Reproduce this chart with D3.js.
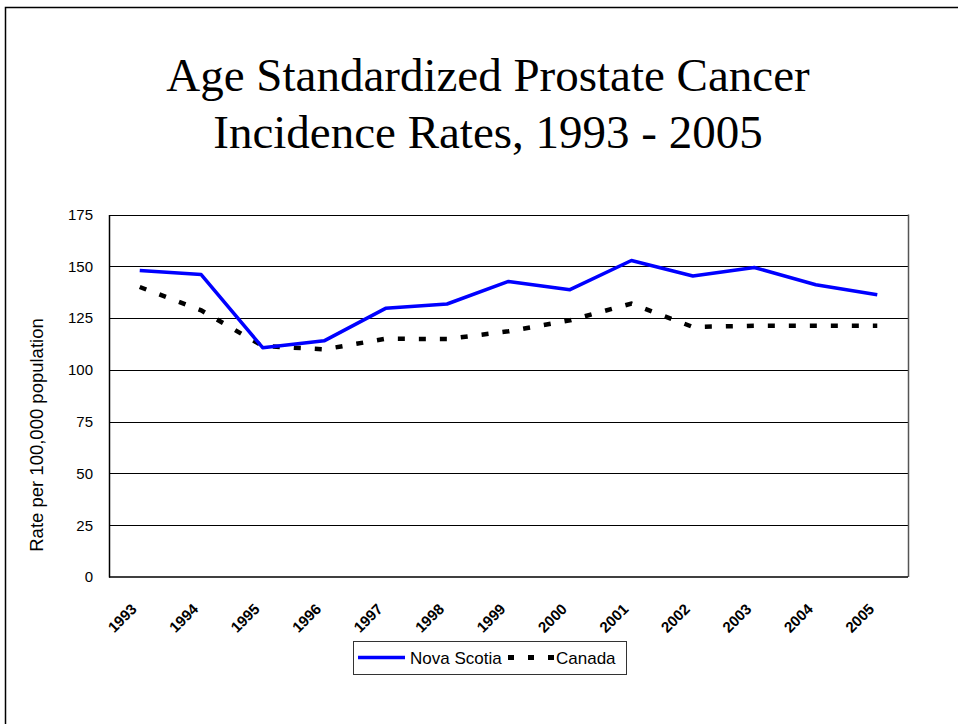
<!DOCTYPE html>
<html>
<head>
<meta charset="utf-8">
<script src="https://cdn.jsdelivr.net/npm/d3@7"></script>
<style>
  body { margin: 0; background: #fff; }
  svg text { font-family: Arial, "Liberation Sans", sans-serif; }
</style>
</head>
<body>
<svg id="chart" width="958" height="724"></svg>
<script>
// chart data
var years = ["1993", "1994", "1995", "1996", "1997", "1998", "1999", "2000", "2001", "2002", "2003", "2004", "2005"];
var novaScotia = [148, 146, 110.7, 114, 129.7, 131.8, 142.7, 138.7, 152.8, 145.3, 149.4, 141.1, 136.3];
var canada = [140, 128.7, 111.5, 109.9, 115, 114.9, 118.6, 123.9, 132, 120.7, 121.3, 121.3, 121.3];
var yTicks = [0, 25, 50, 75, 100, 125, 150, 175];
var titleLines = ["Age Standardized Prostate Cancer", "Incidence Rates, 1993 - 2005"];

var svg = d3.select("#chart");

// slide frame (only top and left edges fall inside the window)
svg.append("rect")
    .attr("x", 5.5).attr("y", 7.5)
    .attr("width", 1000).attr("height", 1000)
    .style("fill", "none")
    .style("stroke", "#000")
    .style("stroke-width", 1.5);

// title
svg.append("g").selectAll("text")
    .data(titleLines)
    .enter()
    .append("text")
    .attr("x", 488)
    .attr("y", function (d, i) { return 91 + i * 57; })
    .attr("text-anchor", "middle")
    .style("font-family", "'Liberation Serif', 'Times New Roman', serif")
    .style("font-size", "47px")
    .text(function (d) { return d; });

// plot area bounds
var plotLeft = 109, plotRight = 908, plotTop = 214.5, plotBottom = 577;

var x = d3.scalePoint().domain(years).range([plotLeft, plotRight]).padding(0.5);
var y = d3.scaleLinear().domain([0, 175]).range([plotBottom, plotTop]);

var g = svg.append("g");

// gridlines
g.selectAll("line.grid")
    .data(yTicks.filter(function (d) { return d > 0; }))
    .enter()
    .append("line")
    .attr("class", "grid")
    .attr("x1", plotLeft).attr("x2", plotRight)
    .attr("y1", function (d) { return Math.round(y(d)) + 0.5; })
    .attr("y2", function (d) { return Math.round(y(d)) + 0.5; })
    .style("stroke", "#000")
    .style("stroke-width", 1);

// right border of plot
g.append("line")
    .attr("x1", plotRight + 0.5).attr("x2", plotRight + 0.5)
    .attr("y1", y(175)).attr("y2", plotBottom)
    .style("stroke", "#555")
    .style("stroke-width", 1.5);

// y axis
var yAxis = d3.axisLeft(y).tickValues(yTicks).tickSize(0).tickPadding(16);
g.append("g")
    .attr("transform", "translate(" + plotLeft + ",0)")
    .call(yAxis)
    .call(function (s) {
        s.select(".domain").style("stroke", "#000").style("stroke-width", 1.5);
        s.selectAll("text")
            .style("font-family", "Arial, 'Liberation Sans', sans-serif")
            .style("font-size", "15px")
            .style("fill", "#000");
    });

// x axis line
g.append("line")
    .attr("x1", plotLeft).attr("x2", plotRight)
    .attr("y1", plotBottom).attr("y2", plotBottom)
    .style("stroke", "#000")
    .style("stroke-width", 1.5);

// x tick labels, rotated
g.selectAll("text.xlab")
    .data(years)
    .enter()
    .append("text")
    .attr("class", "xlab")
    .attr("transform", function (d) { return "translate(" + (x(d) - 2) + ",610) rotate(-45)"; })
    .attr("text-anchor", "end")
    .style("font-size", "15px")
    .style("font-weight", "bold")
    .text(function (d) { return d; });

// y axis title
svg.append("text")
    .attr("transform", "translate(43,435) rotate(-90)")
    .attr("text-anchor", "middle")
    .style("font-size", "18.5px")
    .text("Rate per 100,000 population");

// series lines
var line = d3.line()
    .x(function (d, i) { return x(years[i]); })
    .y(function (d) { return y(d); });

g.append("path")
    .datum(canada)
    .attr("d", line)
    .style("fill", "none")
    .style("stroke", "#000")
    .style("stroke-width", 4.5)
    .style("stroke-dasharray", "7,14");

g.append("path")
    .datum(novaScotia)
    .attr("d", line)
    .style("fill", "none")
    .style("stroke", "#0000ff")
    .style("stroke-width", 3.5)
    .style("stroke-linejoin", "round");

// legend
var legend = svg.append("g").attr("transform", "translate(353,641)");
legend.append("rect")
    .attr("x", 0.5).attr("y", 0.5)
    .attr("width", 273).attr("height", 33)
    .style("fill", "#fff")
    .style("stroke", "#333")
    .style("stroke-width", 1);
legend.append("line")
    .attr("x1", 5).attr("x2", 52)
    .attr("y1", 16.5).attr("y2", 16.5)
    .style("stroke", "#0000ff")
    .style("stroke-width", 3.5);
legend.append("text")
    .attr("x", 57).attr("y", 23)
    .style("font-size", "17px")
    .text("Nova Scotia");
legend.append("line")
    .attr("x1", 155).attr("x2", 202)
    .attr("y1", 16.5).attr("y2", 16.5)
    .style("stroke", "#000")
    .style("stroke-width", 5)
    .style("stroke-dasharray", "6,14");
legend.append("text")
    .attr("x", 203).attr("y", 23)
    .style("font-size", "17px")
    .text("Canada");
</script>
</body>
</html>
